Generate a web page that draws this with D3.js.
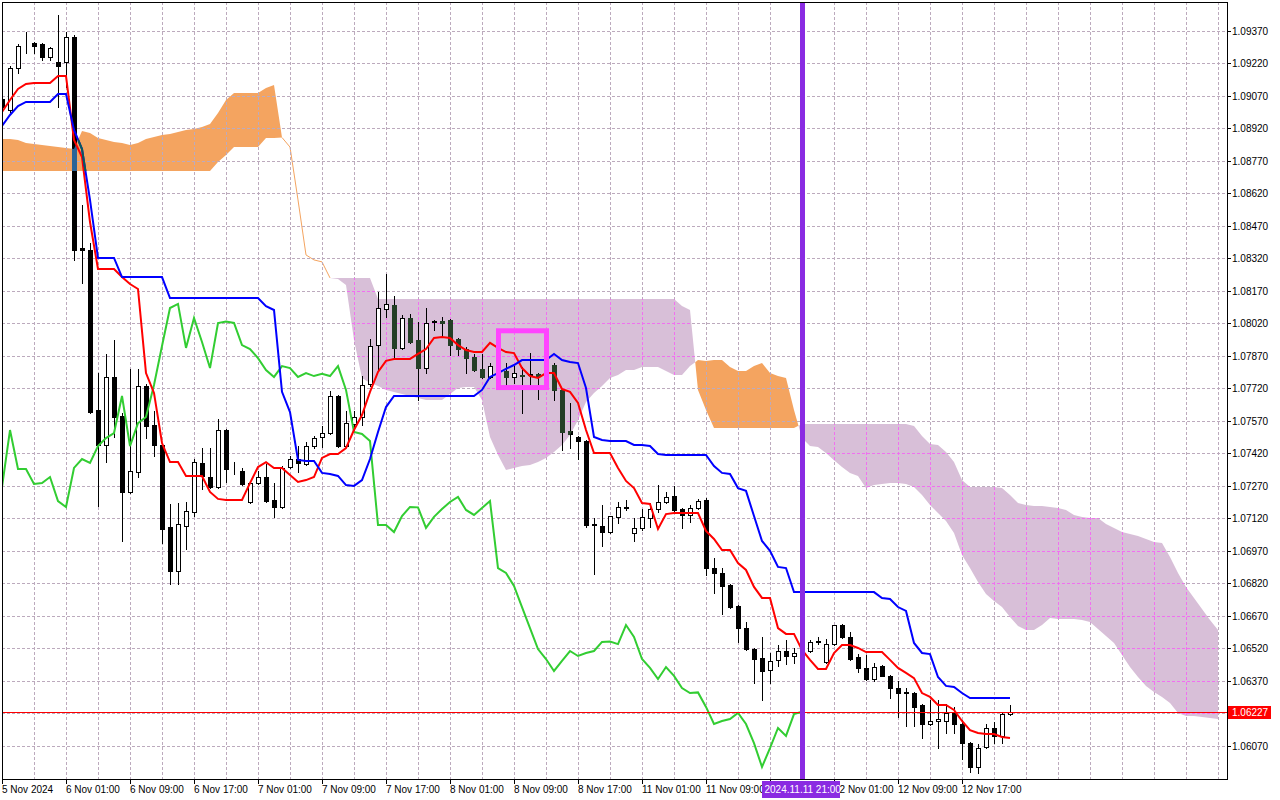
<!DOCTYPE html>
<html><head><meta charset="utf-8">
<script src="https://cdn.jsdelivr.net/npm/d3@7"></script>
<style>
html,body{margin:0;padding:0;background:#fff;}
svg{display:block;}
text{font-family:"Liberation Sans",Arial,sans-serif;font-size:10px;}
</style>
</head><body>
<svg id="c" width="1280" height="800"></svg>
<script>
// ===== DATA (EURUSD H1, bars from 5 Nov 2024 17:00) =====
const openP = [1.09055,1.09004,1.09198,1.09302,1.09313,1.09309,1.09249,1.09226,1.09226,1.09341,
1.08367,1.08358,1.07619,1.07458,1.07772,1.07592,1.07241,1.07333,1.07730,1.07550,
1.07458,1.07079,1.06876,1.07084,1.07149,1.07375,1.07310,1.07264,1.07527,1.07347,
1.07338,1.07195,1.07282,1.07310,1.07204,1.07172,1.07356,1.07393,1.07370,1.07453,
1.07495,1.07513,1.07684,1.07453,1.07555,1.07587,1.07739,1.07919,1.08086,1.08104,
1.07906,1.08044,1.07942,1.07813,1.08026,1.08030,1.08035,1.07947,1.07901,1.07864,
1.07809,1.07772,1.07822,1.07799,1.07772,1.07781,1.07781,1.07786,1.07776,1.07827,
1.07712,1.07522,1.07495,1.07476,1.07093,1.07084,1.07056,1.07126,1.07167,1.07052,
1.07075,1.07121,1.07162,1.07195,1.07222,1.07162,1.07135,1.07167,1.07204,1.06890,
1.06867,1.06812,1.06715,1.06613,1.06516,1.06475,1.06419,1.06466,1.06507,1.06484,
1.06498,1.06507,1.06549,1.06456,1.06539,1.06627,1.06572,1.06479,1.06429,1.06378,
1.06438,1.06392,1.06336,1.06313,1.06313,1.06258,1.06170,1.06184,1.06184,1.06221,
1.06170,1.06082,1.05972,1.06064,1.06152,1.06115,1.06216];
const highP = [1.09106,1.09207,1.09309,1.09364,1.09318,1.09313,1.09295,1.09442,1.09364,1.09350,
1.08566,1.08390,1.07790,1.07878,1.07942,1.07606,1.07809,1.07809,1.07739,1.07615,
1.07462,1.07186,1.07190,1.07195,1.07393,1.07444,1.07444,1.07578,1.07532,1.07379,
1.07352,1.07287,1.07338,1.07370,1.07282,1.07361,1.07407,1.07453,1.07472,1.07499,
1.07546,1.07707,1.07689,1.07615,1.07615,1.07776,1.07947,1.08164,1.08247,1.08146,
1.08058,1.08062,1.08026,1.08090,1.08035,1.08049,1.08039,1.07952,1.07910,1.07878,
1.07878,1.07836,1.07850,1.07836,1.07822,1.07818,1.07882,1.07790,1.07850,1.07836,
1.07716,1.07652,1.07499,1.07481,1.07121,1.07181,1.07130,1.07195,1.07204,1.07121,
1.07162,1.07190,1.07273,1.07241,1.07269,1.07167,1.07181,1.07209,1.07213,1.06936,
1.06890,1.06816,1.06719,1.06641,1.06521,1.06572,1.06498,1.06535,1.06558,1.06521,
1.06535,1.06558,1.06572,1.06562,1.06627,1.06632,1.06595,1.06493,1.06489,1.06452,
1.06442,1.06396,1.06369,1.06336,1.06318,1.06262,1.06281,1.06281,1.06262,1.06249,
1.06189,1.06087,1.06078,1.06170,1.06179,1.06226,1.06258];
const lowP = [1.09004,1.08995,1.09175,1.09267,1.09267,1.09235,1.09235,1.09018,1.09110,1.08312,
1.08206,1.07606,1.07176,1.07379,1.07495,1.07015,1.07236,1.07310,1.07490,1.07407,
1.07006,1.06816,1.06816,1.06978,1.07130,1.07255,1.07259,1.07259,1.07287,1.07324,
1.07273,1.07190,1.07278,1.07195,1.07126,1.07167,1.07352,1.07333,1.07366,1.07444,
1.07449,1.07509,1.07449,1.07449,1.07527,1.07550,1.07730,1.07804,1.08049,1.07859,
1.07901,1.07929,1.07666,1.07790,1.07989,1.07961,1.07873,1.07873,1.07790,1.07799,
1.07767,1.07767,1.07795,1.07730,1.07744,1.07606,1.07730,1.07670,1.07758,1.07666,
1.07435,1.07444,1.07393,1.07079,1.06862,1.06992,1.07052,1.07098,1.07158,1.07015,
1.07066,1.07079,1.07149,1.07190,1.07153,1.07075,1.07102,1.07162,1.06858,1.06775,
1.06678,1.06706,1.06549,1.06512,1.06359,1.06281,1.06359,1.06438,1.06447,1.06452,
1.06475,1.06502,1.06539,1.06452,1.06535,1.06567,1.06466,1.06410,1.06373,1.06369,
1.06392,1.06290,1.06203,1.06161,1.06161,1.06106,1.06166,1.06059,1.06129,1.06129,
1.06009,1.05949,1.05944,1.06059,1.06082,1.06082,1.06212];
const closeP = [1.09018,1.09198,1.09299,1.09304,1.09299,1.09249,1.09290,1.09207,1.09341,1.08358,
1.08358,1.07610,1.07458,1.07772,1.07587,1.07241,1.07338,1.07730,1.07546,1.07458,
1.07070,1.06876,1.07093,1.07153,1.07379,1.07315,1.07264,1.07527,1.07347,1.07347,
1.07278,1.07282,1.07310,1.07199,1.07172,1.07352,1.07393,1.07375,1.07453,1.07490,
1.07513,1.07684,1.07453,1.07559,1.07587,1.07735,1.07915,1.08090,1.08109,1.07906,
1.08044,1.07933,1.07813,1.08021,1.08028,1.08021,1.07919,1.07901,1.07859,1.07804,
1.07772,1.07822,1.07813,1.07772,1.07790,1.07776,1.07786,1.07776,1.07822,1.07712,
1.07518,1.07509,1.07476,1.07089,1.07089,1.07056,1.07130,1.07172,1.07170,1.07075,
1.07126,1.07162,1.07195,1.07218,1.07158,1.07135,1.07167,1.07199,1.06890,1.06867,
1.06807,1.06710,1.06613,1.06516,1.06470,1.06415,1.06461,1.06507,1.06484,1.06498,
1.06507,1.06549,1.06551,1.06539,1.06627,1.06572,1.06470,1.06429,1.06378,1.06433,
1.06392,1.06336,1.06313,1.06316,1.06249,1.06170,1.06184,1.06193,1.06221,1.06170,
1.06082,1.05972,1.06059,1.06152,1.06115,1.06216,1.06227];
const tenkan = [1.08995,1.09050,1.09101,1.09124,1.09129,1.09129,1.09129,1.09161,1.09161,1.08866,
1.08787,1.08487,1.08270,1.08270,1.08270,1.08233,1.08201,1.08178,1.07790,1.07698,
1.07467,1.07379,1.07379,1.07315,1.07315,1.07315,1.07241,1.07209,1.07204,1.07204,
1.07204,1.07282,1.07356,1.07379,1.07352,1.07352,1.07319,1.07287,1.07296,1.07310,
1.07398,1.07416,1.07416,1.07444,1.07527,1.07596,1.07703,1.07795,1.07846,1.07855,
1.07855,1.07855,1.07878,1.07901,1.07952,1.07956,1.07952,1.07919,1.07896,1.07887,
1.07887,1.07929,1.07906,1.07887,1.07882,1.07813,1.07776,1.07767,1.07790,1.07790,
1.07716,1.07703,1.07652,1.07527,1.07421,1.07421,1.07421,1.07352,1.07292,1.07259,
1.07190,1.07186,1.07070,1.07139,1.07144,1.07144,1.07144,1.07144,1.07061,1.07024,
1.06973,1.06973,1.06913,1.06881,1.06803,1.06752,1.06752,1.06613,1.06586,1.06586,
1.06512,1.06466,1.06424,1.06424,1.06498,1.06535,1.06535,1.06521,1.06502,1.06502,
1.06502,1.06466,1.06429,1.06406,1.06382,1.06313,1.06295,1.06258,1.06258,1.06235,
1.06184,1.06142,1.06129,1.06124,1.06124,1.06110,1.06106];
const kijun = [1.08930,1.08981,1.09022,1.09041,1.09041,1.09041,1.09041,1.09078,1.09078,1.08912,
1.08824,1.08589,1.08321,1.08321,1.08321,1.08233,1.08233,1.08233,1.08233,1.08233,
1.08233,1.08136,1.08136,1.08136,1.08136,1.08136,1.08136,1.08136,1.08136,1.08136,
1.08136,1.08136,1.08136,1.08099,1.08081,1.07703,1.07610,1.07389,1.07384,1.07384,
1.07329,1.07324,1.07315,1.07273,1.07269,1.07296,1.07393,1.07518,1.07633,1.07684,
1.07684,1.07684,1.07684,1.07684,1.07684,1.07684,1.07684,1.07684,1.07684,1.07684,
1.07712,1.07772,1.07790,1.07809,1.07827,1.07850,1.07850,1.07850,1.07850,1.07878,
1.07850,1.07841,1.07836,1.07721,1.07495,1.07481,1.07476,1.07476,1.07476,1.07458,
1.07458,1.07453,1.07416,1.07412,1.07412,1.07412,1.07412,1.07412,1.07412,1.07361,
1.07329,1.07324,1.07259,1.07246,1.07130,1.07015,1.06969,1.06895,1.06890,1.06779,
1.06779,1.06779,1.06779,1.06779,1.06779,1.06779,1.06779,1.06779,1.06779,1.06779,
1.06752,1.06747,1.06710,1.06692,1.06544,1.06498,1.06493,1.06387,1.06346,1.06341,
1.06313,1.06290,1.06290,1.06290,1.06290,1.06290,1.06290];
// Senkou spans (already shifted 26 bars forward: 153 positions)
const spanA = [1.08870,1.08870,1.08866,1.08852,1.08847,1.08843,1.08838,1.08833,1.08829,1.08824,
1.08907,1.08898,1.08875,1.08866,1.08856,1.08852,1.08843,1.08852,1.08870,1.08879,
1.08889,1.08893,1.08902,1.08912,1.08916,1.08926,1.08939,1.08990,1.09050,1.09082,
1.09082,1.09082,1.09082,1.09106,1.09119,1.08877,1.08833,1.08589,1.08335,1.08312,
1.08303,1.08229,1.08224,1.08196,1.07942,1.07767,1.07744,1.07730,1.07712,1.07703,
1.07693,1.07684,1.07675,1.07666,1.07666,1.07666,1.07693,1.07721,1.07726,1.07726,
1.07666,1.07495,1.07412,1.07342,1.07352,1.07361,1.07366,1.07379,1.07398,1.07426,
1.07458,1.07504,1.07573,1.07656,1.07698,1.07730,1.07767,1.07781,1.07804,1.07804,
1.07818,1.07818,1.07818,1.07799,1.07781,1.07781,1.07822,1.07850,1.07846,1.07850,
1.07850,1.07818,1.07799,1.07799,1.07822,1.07836,1.07790,1.07776,1.07767,1.07619,
1.07490,1.07453,1.07449,1.07421,1.07388,1.07356,1.07329,1.07315,1.07259,1.07273,
1.07278,1.07282,1.07282,1.07278,1.07264,1.07227,1.07181,1.07144,1.07107,1.07052,
1.06950,1.06890,1.06826,1.06770,1.06738,1.06710,1.06664,1.06623,1.06604,1.06604,
1.06627,1.06659,1.06655,1.06655,1.06655,1.06650,1.06641,1.06609,1.06576,1.06544,
1.06489,1.06433,1.06387,1.06346,1.06318,1.06295,1.06267,1.06221,1.06207,1.06207,
1.06203,1.06198,1.06193];
const spanB = [1.08723,1.08723,1.08723,1.08723,1.08723,1.08723,1.08723,1.08723,1.08723,1.08723,
1.08723,1.08723,1.08723,1.08723,1.08723,1.08723,1.08723,1.08723,1.08723,1.08723,
1.08723,1.08723,1.08723,1.08723,1.08723,1.08723,1.08723,1.08764,1.08796,1.08833,
1.08833,1.08833,1.08833,1.08875,1.08875,1.08877,1.08833,1.08589,1.08335,1.08312,
1.08303,1.08229,1.08229,1.08229,1.08229,1.08229,1.08229,1.08132,1.08132,1.08132,
1.08132,1.08132,1.08132,1.08132,1.08132,1.08132,1.08132,1.08132,1.08132,1.08132,
1.08132,1.08132,1.08132,1.08132,1.08132,1.08132,1.08132,1.08132,1.08132,1.08132,
1.08132,1.08132,1.08132,1.08132,1.08132,1.08132,1.08132,1.08132,1.08132,1.08132,
1.08132,1.08132,1.08132,1.08132,1.08132,1.08099,1.08081,1.07712,1.07619,1.07536,
1.07536,1.07536,1.07536,1.07536,1.07536,1.07536,1.07536,1.07536,1.07536,1.07536,
1.07555,1.07555,1.07555,1.07555,1.07555,1.07555,1.07555,1.07555,1.07555,1.07555,
1.07555,1.07555,1.07555,1.07555,1.07546,1.07499,1.07462,1.07458,1.07426,1.07379,
1.07296,1.07264,1.07264,1.07264,1.07264,1.07259,1.07227,1.07190,1.07181,1.07176,
1.07176,1.07172,1.07167,1.07158,1.07135,1.07126,1.07121,1.07121,1.07093,1.07075,
1.07056,1.07047,1.07038,1.07024,1.07010,1.07006,1.06941,1.06867,1.06803,1.06752,
1.06701,1.06650,1.06604];
const chikouShift = 26;
const yTickLabels = ["1.09370","1.09220","1.09070","1.08920","1.08770","1.08620","1.08470","1.08320",
"1.08170","1.08020","1.07870","1.07720","1.07570","1.07420","1.07270","1.07120","1.06970","1.06820",
"1.06670","1.06520","1.06370","1.06220","1.06070"];
const xTickIndex = [0,8,16,24,32,40,48,56,64,72,80,88,96,104,112,120];
const xTickLabels = ["5 Nov 2024","6 Nov 01:00","6 Nov 09:00","6 Nov 17:00","7 Nov 01:00","7 Nov 09:00",
"7 Nov 17:00","8 Nov 01:00","8 Nov 09:00","8 Nov 17:00","11 Nov 01:00","11 Nov 09:00","11 Nov 17:00",
"12 Nov 01:00","12 Nov 09:00","12 Nov 17:00"];
const lastPrice = 1.06227;
const markerIndex = 100, markerLabel = "2024.11.11 21:00";
const boxBars = [62, 68], boxPrices = [1.07723, 1.07985];

// ===== CHART =====
const svg = d3.select("#c");
const L = 2, T = 2, R = 1227, B = 779;
const x = d3.scaleLinear().domain([0, 152]).range([2, 1218]);
const y = d3.scaleLinear().domain([1.06070, 1.09370]).range([745.7, 30.7]);

svg.append("rect").attr("width",1280).attr("height",800).attr("fill","#fff");
const defs = svg.append("defs");
defs.append("clipPath").attr("id","plotClip").append("rect")
  .attr("x",L).attr("y",T).attr("width",R-L).attr("height",B-T);

// cloud points with crossings inserted
const cloudPts = [];
for (let j = 0; j < spanA.length; j++) {
  cloudPts.push({i:j, a:spanA[j], b:spanB[j]});
  if (j < spanA.length - 1) {
    const d0 = spanA[j]-spanB[j], d1 = spanA[j+1]-spanB[j+1];
    if (d0*d1 < 0) {
      const t = d0/(d0-d1);
      const v = spanA[j] + t*(spanA[j+1]-spanA[j]);
      cloudPts.push({i:j+t, a:v, b:v});
    }
  }
}
const orangeArea = d3.area().x(p=>x(p.i)).y0(p=>y(p.b)).y1(p=>y(Math.max(p.a,p.b)));
const thistleArea = d3.area().x(p=>x(p.i)).y0(p=>y(p.a)).y1(p=>y(Math.max(p.a,p.b)));
const orangeD = orangeArea(cloudPts), thistleD = thistleArea(cloudPts);
defs.append("clipPath").attr("id","orangeClip").append("path").attr("d", orangeD);
defs.append("clipPath").attr("id","thistleClip").append("path").attr("d", thistleD);

const plot = svg.append("g").attr("clip-path","url(#plotClip)");
plot.append("path").attr("d", thistleD).attr("fill","#d8bfd8");
plot.append("path").attr("d", orangeD).attr("fill","#f4a460");
plot.append("path").datum(spanA.map((a,i)=>({i, a, b:spanB[i]})))
  .attr("fill","none").attr("stroke","#f4a460").attr("stroke-width",1)
  .attr("d", d3.line().defined(p=>Math.abs(p.a-p.b)<1e-7).x(p=>x(p.i)).y(p=>y(p.a)));

// grid
function drawGrid(g, color) {
  for (let m = 1; m <= 38; m++) {
    const gx = Math.round(x(m*4)) + 0.5;
    g.append("line").attr("x1",gx).attr("x2",gx).attr("y1",T).attr("y2",B)
      .attr("stroke",color).attr("stroke-width",1).attr("stroke-dasharray","3,2");
  }
  yTickLabels.forEach(s => {
    const gy = Math.round(y(+s)) + 0.5;
    g.append("line").attr("x1",L).attr("x2",R).attr("y1",gy).attr("y2",gy)
      .attr("stroke",color).attr("stroke-width",1).attr("stroke-dasharray","3,2");
  });
}
drawGrid(plot.append("g"), "#bcaabd");
drawGrid(plot.append("g").attr("clip-path","url(#thistleClip)"), "#f070f0");

// candles
const idx = d3.range(openP.length);
const cg = plot.append("g");
idx.forEach(k => {
  const cx = Math.round(x(k));
  const o = openP[k], c = closeP[k];
  cg.append("line").attr("x1",cx+0.5).attr("x2",cx+0.5)
    .attr("y1",Math.round(y(highP[k]))).attr("y2",Math.round(y(lowP[k]))+1)
    .attr("stroke","#000").attr("stroke-width",1);
  const top = Math.round(y(Math.max(o,c))), bot = Math.round(y(Math.min(o,c)));
  if (c >= o) {
    cg.append("rect").attr("x",cx-1.5).attr("y",top+0.5).attr("width",4).attr("height",Math.max(0,bot-top))
      .attr("fill","#fff").attr("stroke","#000").attr("stroke-width",1);
  } else {
    cg.append("rect").attr("x",cx-2).attr("y",top).attr("width",5).attr("height",Math.max(1,bot-top+1))
      .attr("fill","#000");
  }
});
// body tint where black bodies overlap the cloud
function tintBodies(clipId, color) {
  const g = plot.append("g").attr("clip-path",`url(#${clipId})`);
  idx.filter(k => closeP[k] < openP[k]).forEach(k => {
    const cx = Math.round(x(k));
    const top = Math.round(y(openP[k])), bot = Math.round(y(closeP[k]));
    g.append("rect").attr("x",cx-2).attr("y",top).attr("width",5).attr("height",Math.max(1,bot-top+1)).attr("fill",color);
  });
}
tintBodies("orangeClip","#2a6497");
tintBodies("thistleClip","#243f26");

// chikou, tenkan, kijun
const lineIdx = d3.line().x(d=>x(d[0])).y(d=>y(d[1]));
const chik = closeP.map((v,k)=>[k-chikouShift, v]).filter(d=>d[0]>=0);
plot.append("path").attr("d", lineIdx(chik)).attr("fill","none").attr("stroke","#32cd32").attr("stroke-width",2);
plot.append("path").attr("d", lineIdx(tenkan.map((v,k)=>[k,v]))).attr("fill","none").attr("stroke","#ff0000").attr("stroke-width",2);
plot.append("path").attr("d", lineIdx(kijun.map((v,k)=>[k,v]))).attr("fill","none").attr("stroke","#0000ff").attr("stroke-width",2);
plot.append("g").attr("clip-path","url(#orangeClip)").append("path")
  .attr("d", lineIdx(kijun.map((v,k)=>[k,v]))).attr("fill","none").attr("stroke","#0b5a58").attr("stroke-width",2);

// last price line
const ly = Math.round(y(lastPrice)) + 0.5;
plot.append("line").attr("x1",L).attr("x2",R).attr("y1",ly).attr("y2",ly).attr("stroke","#ff0000").attr("stroke-width",1);

// highlight box
plot.append("rect").attr("x",x(boxBars[0])+0.5).attr("y",y(boxPrices[1]))
  .attr("width",x(boxBars[1])-x(boxBars[0])).attr("height",y(boxPrices[0])-y(boxPrices[1]))
  .attr("fill","none").attr("stroke","#ff44ff").attr("stroke-width",5);

// vertical marker
const mx = x(markerIndex) + 0.5;
plot.append("line").attr("x1",mx).attr("x2",mx).attr("y1",T).attr("y2",B).attr("stroke","#8a2be2").attr("stroke-width",5);

// frame
svg.append("rect").attr("x",L+0.5).attr("y",T+0.5).attr("width",R-L).attr("height",B-T)
  .attr("fill","none").attr("stroke","#000").attr("stroke-width",1);

// y axis labels
yTickLabels.forEach(s => {
  const gy = Math.round(y(+s)) + 0.5;
  svg.append("line").attr("x1",R).attr("x2",R+4).attr("y1",gy).attr("y2",gy).attr("stroke","#000");
  if (Math.abs(+s - lastPrice) > 0.0003)
    svg.append("text").attr("x",R+5).attr("y",gy+3.5).attr("fill","#000").text(s);
});
// last price label (covers the 1.06220 level label, as in the terminal)
svg.append("rect").attr("x",R+1).attr("y",ly-6.5).attr("width",43).attr("height",13).attr("fill","#ff0000");
svg.append("text").attr("x",R+5).attr("y",ly+3.5).attr("fill","#fff").text(lastPrice.toFixed(5));

// x axis labels (the time-marker box hides whatever lies under it)
const mBoxL = x(markerIndex) - 40, mBoxR = x(markerIndex) + 38;
xTickIndex.forEach((k,n) => {
  const tx = Math.round(x(k)) + 0.5;
  svg.append("line").attr("x1",tx).attr("x2",tx).attr("y1",B).attr("y2",B+5).attr("stroke","#000");
  const label = xTickLabels[n];
  const t = svg.append("text").attr("x",tx-0.5).attr("y",792.5).attr("fill","#000").text(label);
  const w = t.node().getComputedTextLength();
  const x0 = tx-0.5, x1 = x0 + w;
  if (x0 >= mBoxL && x1 <= mBoxR + 1) { t.remove(); return; }
  if (x0 < mBoxR && x1 > mBoxR) {
    // keep only the characters that show past the marker box, at their own positions
    let cut = 0;
    while (cut < label.length && x0 + t.node().getSubStringLength(0, cut + 1) <= mBoxR + 1) cut++;
    const off = cut ? t.node().getSubStringLength(0, cut) : 0;
    t.attr("x", x0 + off).text(label.slice(cut));
  }
});
// marker label
svg.append("rect").attr("x",mBoxL).attr("y",781).attr("width",mBoxR-mBoxL).attr("height",17).attr("fill","#8a2be2");
svg.append("text").attr("x",mBoxL+2.5).attr("y",792.5).attr("fill","#fff").text(markerLabel);
</script>
</body></html>
